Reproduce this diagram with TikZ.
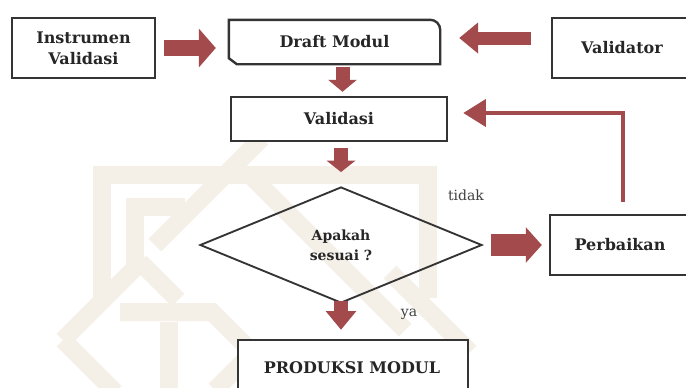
\documentclass[tikz,border=0pt]{standalone}
\usepackage{fontspec}
\setmainfont{DejaVu Serif}
\usetikzlibrary{shapes.geometric,arrows.meta,calc}
\definecolor{arrred}{RGB}{162,74,76}
\definecolor{boxline}{RGB}{52,52,52}
\definecolor{wmark}{RGB}{244,239,231}
\begin{document}
\begin{tikzpicture}[x=0.75pt,y=-0.75pt,
  box/.style={draw=boxline,line width=1.8pt,fill=white,inner sep=0pt,align=center,
    font=\fontsize{12}{16}\selectfont\bfseries,text=black!85},
  small/.style={inner sep=0pt,font=\fontsize{10.5}{12}\selectfont,text=black!75},
  wm/.style={draw=wmark,line width=13.5pt,line join=miter},
  fatarr/.style n args={3}{draw=arrred,line width=#1,-{Triangle[width=#2,length=#3]}},
  fb/.style={draw=arrred,line width=3.6pt,line join=miter,
    -{Triangle[width=20pt,length=17pt]}}]
\useasboundingbox (0,0) rectangle (686,387);
\fill[white] (0,0) rectangle (686,387);
\clip (0,0) rectangle (686,387);

% faint watermark (rough)
\draw[wm] (102,303) -- (102,175) -- (428,175) -- (428,298);
\draw[wm] (135,265) -- (135,207) -- (185,207);
\draw[wm] (140,262) -- (178,300);
\draw[wm] (63,340) -- (145,258);
\draw[wm] (155,245) -- (262,138);
\draw[wm] (63,340) -- (115,392);
\draw[wm] (120,312) -- (212,312) -- (245,345);
\draw[wm] (169,322) -- (169,390);
\draw[wm] (250,175) -- (405,330);
\draw[wm] (390,272) -- (470,352);
\draw[wm] (215,390) -- (258,347);

% nodes
\node[box,minimum width=107.25pt,minimum height=45pt] (inst) at (83.5,48)
  {Instrumen\\Validasi};
\node[box,minimum width=156.75pt,minimum height=31.5pt,draw=none] (draft) at (334.5,42)
  {\phantom{Draft Modul}};
\draw[draw=boxline,line width=1.8pt,fill=white]
  ($(draft.south west)+(0,-6)$) -- (draft.north west)
  -- ($(draft.north east)+(-10,0)$) arc[start angle=90,end angle=0,radius=7.5pt]
  -- (draft.south east) -- ($(draft.south west)+(8,0)$) -- cycle;
\node[font=\fontsize{12}{16}\selectfont\bfseries,text=black!85,inner sep=0pt] at (draft) {Draft Modul};
\node[box,minimum width=105pt,minimum height=45pt] (valr) at (622,48) {Validator};
\node[box,minimum width=162pt,minimum height=33pt] (valid) at (339,119) {Validasi};
\node[draw=boxline,line width=1.4pt,diamond,inner sep=0pt,minimum width=211.5pt,
  minimum height=87pt,align=center,text=black!85,
  font=\fontsize{10.5}{15}\selectfont\bfseries] (dia) at (341,245)
  {Apakah\\sesuai ?};
\node[box,minimum width=105pt,minimum height=45pt] (perb) at (620,245) {Perbaikan};
\node[box,minimum width=172.5pt,minimum height=42pt] (prod) at (353,368) {};
\node[font=\fontsize{12}{14}\selectfont\bfseries,text=black!85,inner sep=0pt] (prodt) at (352,368) {PRODUKSI MODUL};
\node[small] (tidak) at (466,195) {tidak};
\node[small] (ya) at (409,314) {ya};

% fat arrows
\draw[fatarr={12pt}{28.5pt}{12.75pt},shorten <=6pt,shorten >=9.75pt]
  (inst.east) -- (inst.east -| draft.west);
\draw[fatarr={9.75pt}{22.5pt}{14.25pt},shorten <=15pt,shorten >=14.25pt]
  ($(valr.west)+(0,-10)$) -- ($(valr.west -| draft.east)+(0,-10)$);
\draw[fatarr={10.5pt}{21pt}{9pt},shorten <=2.25pt,shorten >=3pt]
  ($(draft.south)+(8,0)$) -- ($(draft.south |- valid.north)+(8,0)$);
\draw[fatarr={11pt}{21pt}{8.5pt},shorten <=4.5pt,shorten >=10.5pt]
  ($(valid.south)+(2,0)$) -- ($(dia.north)+(0,0)$);
\draw[fatarr={16.5pt}{26pt}{12pt},shorten <=6pt,shorten >=5.25pt]
  (dia.east) -- (perb.west);
\draw[fatarr={11pt}{22pt}{14pt},shorten <=-2.25pt,shorten >=6.75pt]
  (dia.south) -- (dia.south |- prod.north);

% feedback arrow
\coordinate (fbc) at (623,113);
\draw[fb,shorten <=9pt,shorten >=11.25pt]
  (perb.north -| fbc) -- (fbc) -- (valid.east |- fbc);
\end{tikzpicture}
\end{document}
